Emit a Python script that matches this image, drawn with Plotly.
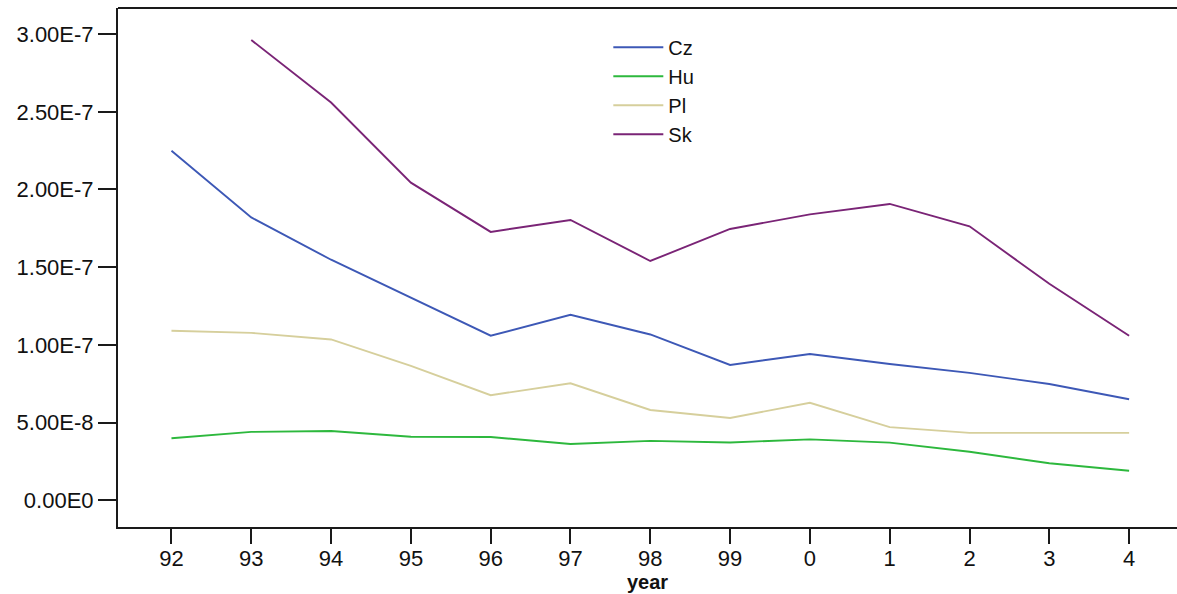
import plotly.graph_objects as go

years = ["92", "93", "94", "95", "96", "97", "98", "99", "0", "1", "2", "3", "4"]
cz = [2.250e-7, 1.820e-7, 1.548e-7, 1.303e-7, 1.059e-7, 1.194e-7, 1.067e-7, 0.871e-7, 0.941e-7, 0.877e-7, 0.820e-7, 0.748e-7, 0.650e-7]
hu = [0.399e-7, 0.440e-7, 0.446e-7, 0.409e-7, 0.407e-7, 0.362e-7, 0.382e-7, 0.372e-7, 0.392e-7, 0.371e-7, 0.312e-7, 0.238e-7, 0.190e-7]
pl = [1.091e-7, 1.077e-7, 1.035e-7, 0.865e-7, 0.676e-7, 0.753e-7, 0.581e-7, 0.530e-7, 0.627e-7, 0.471e-7, 0.434e-7, 0.432e-7, 0.434e-7]
sk = [None, 2.962e-7, 2.560e-7, 2.044e-7, 1.727e-7, 1.804e-7, 1.540e-7, 1.746e-7, 1.840e-7, 1.907e-7, 1.763e-7, 1.393e-7, 1.059e-7]

series_names = ["Cz", "Hu", "Pl", "Sk"]
series_colors = ["#3d58b6", "#2db83d", "#d6cf9c", "#7a2476"]

ytickvals = [0, 0.5e-7, 1.0e-7, 1.5e-7, 2.0e-7, 2.5e-7, 3.0e-7]
yticktext = ["0.00E0", "5.00E-8", "1.00E-7", "1.50E-7", "2.00E-7", "2.50E-7", "3.00E-7"]

FONT = "Arial, 'Liberation Sans', sans-serif"

fig = go.Figure()
for name, vals, col in zip(series_names, [cz, hu, pl, sk], series_colors):
    fig.add_trace(go.Scatter(
        x=years, y=vals, name=name, mode="lines",
        line=dict(color=col, width=1.9),
        connectgaps=False,
    ))

fig.update_layout(
    width=1177, height=594,
    margin=dict(l=118, r=0, t=8, b=67),
    paper_bgcolor="white", plot_bgcolor="white",
    font=dict(family=FONT, size=22, color="#111"),
    showlegend=True,
    legend=dict(
        x=0.463, y=0.962, xanchor="left", yanchor="top",
        bgcolor="rgba(0,0,0,0)", borderwidth=0,
        font=dict(family=FONT, size=20, color="#111"),
        tracegroupgap=0, itemwidth=50,
    ),
    xaxis=dict(
        type="category", range=[-0.67, 12.60],
        showgrid=False, zeroline=False,
        showline=True, linecolor="#1a1a1a", linewidth=2,
        ticks="outside", ticklen=15, tickwidth=2, tickcolor="#1a1a1a",
        tickfont=dict(family=FONT, size=22, color="#111"),
        ticklabelstandoff=-4,
        title=dict(text="<b>year</b>", font=dict(family=FONT, size=20, color="#111"), standoff=2),
    ),
    yaxis=dict(
        range=[-0.172e-7, 3.168e-7],
        showgrid=False, zeroline=False,
        showline=True, linecolor="#1a1a1a", linewidth=2,
        ticks="outside", ticklen=18, tickwidth=2, tickcolor="#1a1a1a",
        tickvals=ytickvals, ticktext=yticktext,
        tickfont=dict(family=FONT, size=22, color="#111"),
    ),
    shapes=[dict(type="line", xref="paper", yref="paper", x0=0, x1=1, y0=1, y1=1,
                 line=dict(color="#1a1a1a", width=2))],
)

fig.write_html("out.html", config={"displayModeBar": False},
               post_script="document.body.style.margin='0';document.body.style.overflow='hidden';")
